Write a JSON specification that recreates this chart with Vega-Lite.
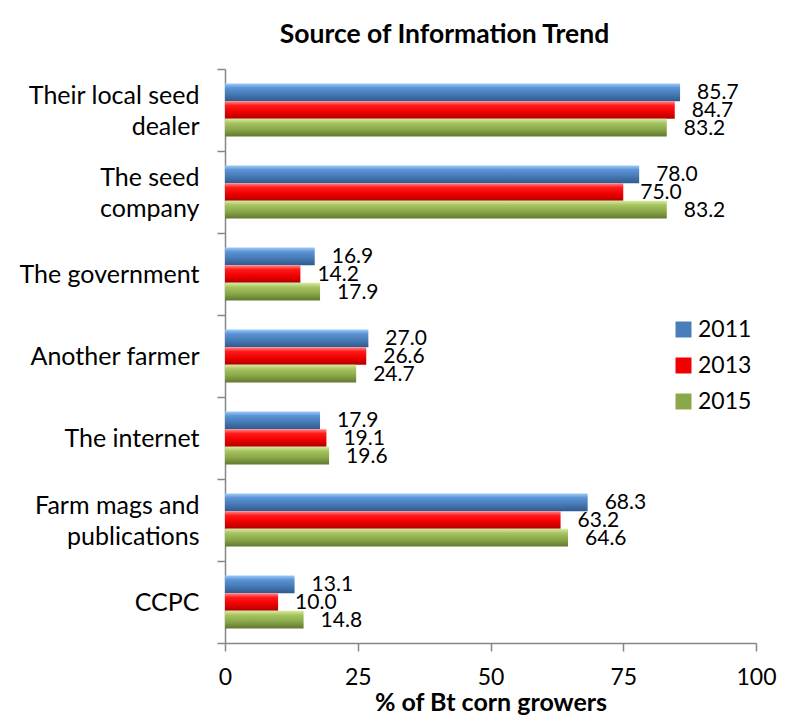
{
  "$schema": "https://vega.github.io/schema/vega-lite/v6.json",
  "width": 531,
  "height": 574,
  "autosize": {"type": "none"},
  "padding": {"left": 225, "top": 69, "right": 37, "bottom": 82},
  "background": "white",
  "title": {
    "text": "Source of Information Trend",
    "font": "Lato",
    "fontSize": 26.5,
    "fontWeight": "bold",
    "color": "black",
    "anchor": "middle",
    "dx": -46,
    "baseline": "alphabetic",
    "offset": -12
  },
  "data": {
    "values": [
      {"source": "Their local seed dealer", "year": "2011", "pct": 85.7},
      {"source": "Their local seed dealer", "year": "2013", "pct": 84.7},
      {"source": "Their local seed dealer", "year": "2015", "pct": 83.2},
      {"source": "The seed company", "year": "2011", "pct": 78.0},
      {"source": "The seed company", "year": "2013", "pct": 75.0},
      {"source": "The seed company", "year": "2015", "pct": 83.2},
      {"source": "The government", "year": "2011", "pct": 16.9},
      {"source": "The government", "year": "2013", "pct": 14.2},
      {"source": "The government", "year": "2015", "pct": 17.9},
      {"source": "Another farmer", "year": "2011", "pct": 27.0},
      {"source": "Another farmer", "year": "2013", "pct": 26.6},
      {"source": "Another farmer", "year": "2015", "pct": 24.7},
      {"source": "The internet", "year": "2011", "pct": 17.9},
      {"source": "The internet", "year": "2013", "pct": 19.1},
      {"source": "The internet", "year": "2015", "pct": 19.6},
      {"source": "Farm mags and publications", "year": "2011", "pct": 68.3},
      {"source": "Farm mags and publications", "year": "2013", "pct": 63.2},
      {"source": "Farm mags and publications", "year": "2015", "pct": 64.6},
      {"source": "CCPC", "year": "2011", "pct": 13.1},
      {"source": "CCPC", "year": "2013", "pct": 10.0},
      {"source": "CCPC", "year": "2015", "pct": 14.8}
    ]
  },
  "encoding": {
    "y": {
      "field": "source",
      "type": "nominal",
      "sort": null,
      "scale": {"paddingInner": 0, "paddingOuter": 0},
      "axis": {
        "title": null,
        "domainColor": "#868686",
        "domainWidth": 1.5,
        "tickColor": "#868686",
        "tickWidth": 1.5,
        "tickSize": 8,
        "tickBand": "extent",
        "labelFont": "Lato",
        "labelFontSize": 25,
        "labelColor": "black",
        "labelPadding": 18,
        "labelLimit": 230,
        "labelLineHeight": 31,
        "labelAlign": "right",
        "labelBaseline": "middle",
        "labelOffset": {"condition": {"test": "indexof(['Their local seed dealer', 'The seed company', 'Farm mags and publications'], datum.value) >= 0", "value": -15}, "value": 0},
        "labelExpr": "datum.label == 'Their local seed dealer' ? ['Their local seed', 'dealer'] : datum.label == 'The seed company' ? ['The seed', 'company'] : datum.label == 'Farm mags and publications' ? ['Farm mags and', 'publications'] : datum.label"
      }
    },
    "yOffset": {
      "field": "year",
      "type": "nominal",
      "scale": {"paddingInner": 0, "paddingOuter": 0.82}
    },
    "x": {
      "field": "pct",
      "type": "quantitative",
      "scale": {"domain": [0, 100], "nice": false},
      "axis": {
        "title": "% of Bt corn growers",
        "titleFont": "Lato",
        "titleFontSize": 25,
        "titleFontWeight": "bold",
        "titleColor": "black",
        "titlePadding": 1,
        "values": [0, 25, 50, 75, 100],
        "grid": false,
        "domainColor": "#868686",
        "domainWidth": 1.5,
        "tickColor": "#868686",
        "tickWidth": 1.5,
        "tickSize": 8,
        "labelFont": "Lato",
        "labelFontSize": 23,
        "labelColor": "black",
        "labelPadding": 15,
        "labelFlush": false
      }
    }
  },
  "layer": [
    {
      "mark": {"type": "bar", "strokeWidth": 0},
      "encoding": {
        "fill": {
          "field": "year",
          "type": "nominal",
          "scale": {
            "domain": ["2011", "2013", "2015"],
            "range": ["#4A7EBB", "#F00000", "#8AA84A"]
          },
          "condition": [
            {"test": "datum.year == '2011'", "value": {"gradient": "linear", "x1": 0, "y1": 0, "x2": 0, "y2": 1, "stops": [
                {"offset": 0, "color": "#9CCBF7"}, {"offset": 0.25, "color": "#5B93D6"},
                {"offset": 0.55, "color": "#4A7EBB"}, {"offset": 1, "color": "#2F5A8E"}]}},
            {"test": "datum.year == '2013'", "value": {"gradient": "linear", "x1": 0, "y1": 0, "x2": 0, "y2": 1, "stops": [
                {"offset": 0, "color": "#FF8A8A"}, {"offset": 0.25, "color": "#FF1A1A"},
                {"offset": 0.6, "color": "#F00000"}, {"offset": 1, "color": "#B00000"}]}},
            {"test": "datum.year == '2015'", "value": {"gradient": "linear", "x1": 0, "y1": 0, "x2": 0, "y2": 1, "stops": [
                {"offset": 0, "color": "#D9EBA0"}, {"offset": 0.25, "color": "#A5C35E"},
                {"offset": 0.6, "color": "#8AA84A"}, {"offset": 1, "color": "#61782F"}]}}
          ],
          "legend": {
            "title": null,
            "orient": "none",
            "legendX": 447,
            "legendY": 249,
            "symbolType": "square",
            "symbolSize": 256,
            "symbolStrokeWidth": 0,
            "labelFont": "Lato",
            "labelFontSize": 23,
            "labelColor": "black",
            "labelOffset": 3,
            "rowPadding": 12
          }
        }
      }
    },
    {
      "mark": {"type": "text", "align": "left", "baseline": "middle", "dx": 17, "dy": 1, "font": "Lato", "fontSize": 21, "color": "black"},
      "encoding": {
        "text": {"field": "pct", "type": "quantitative", "format": ".1f"}
      }
    }
  ],
  "config": {
    "view": {"stroke": null}
  }
}
